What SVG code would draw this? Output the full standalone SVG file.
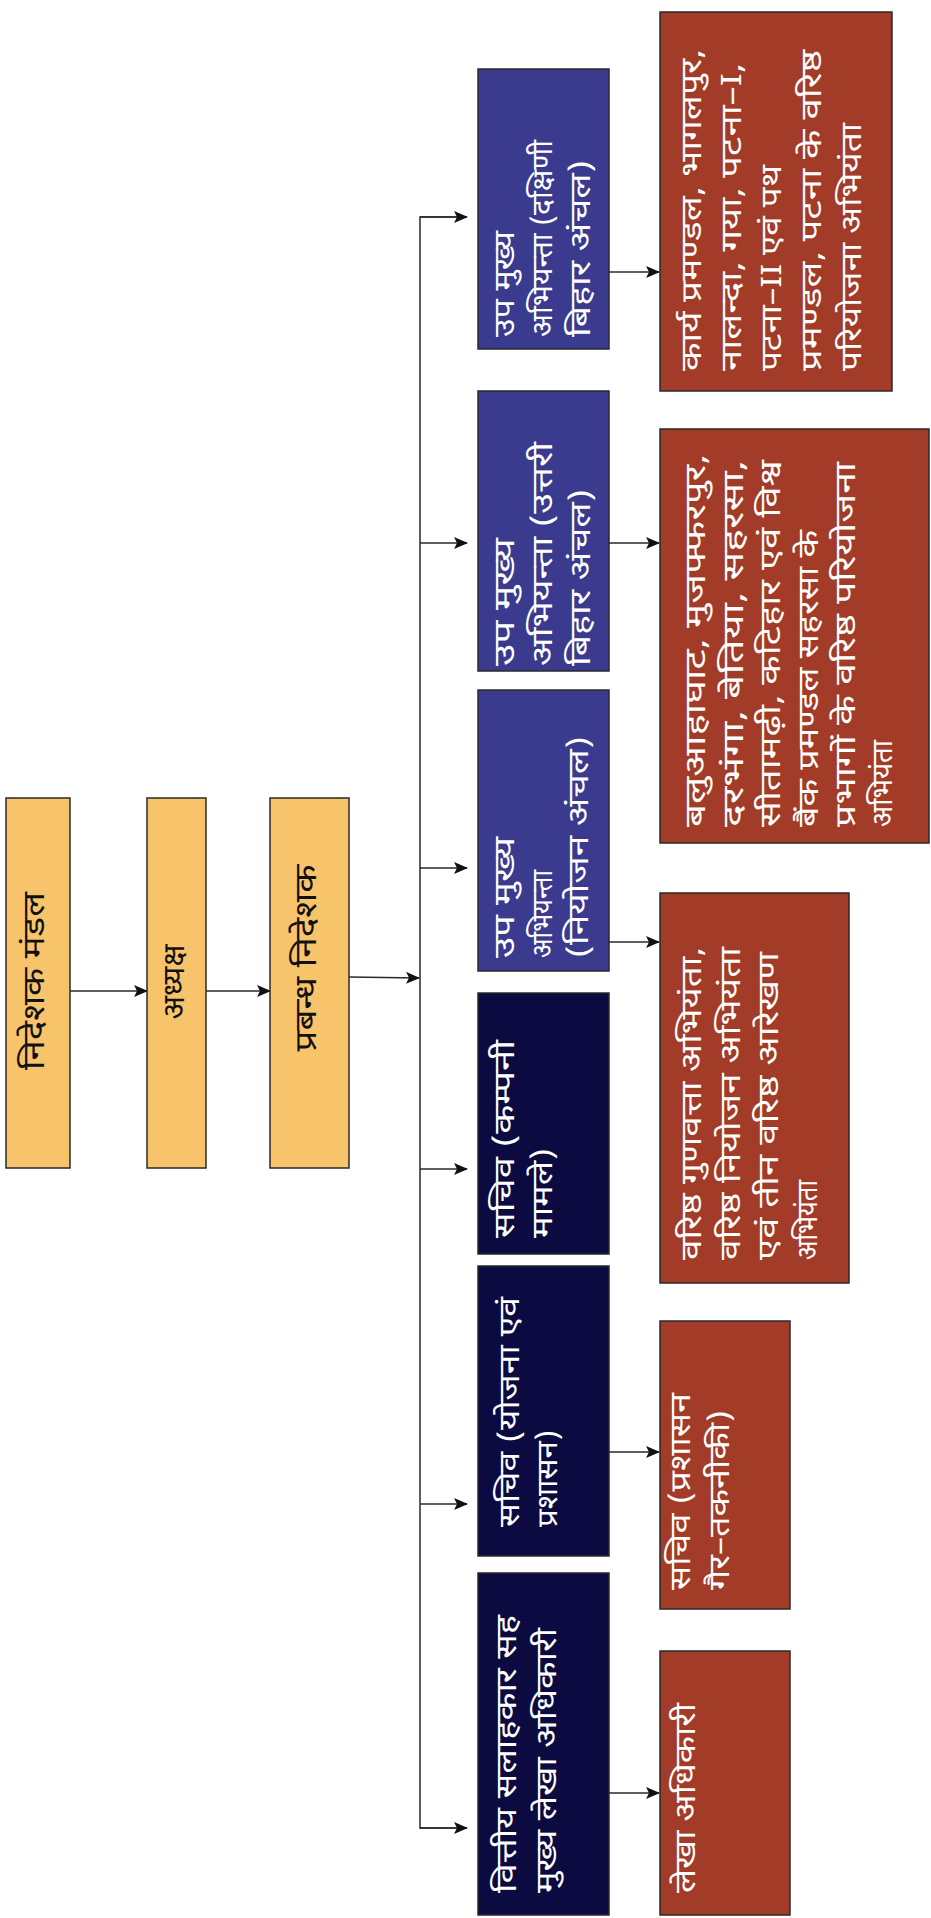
<svg xmlns="http://www.w3.org/2000/svg" width="931" height="1918" viewBox="0 0 931 1918">
<style>
.bx{stroke:#2a2a2a;stroke-width:1.5}
.yl{fill:#F8C46B}
.bm{fill:#3A3A8E}
.bd{fill:#0B0B42}
.rd{fill:#A23B28}
text{font-family:"Noto Sans Devanagari","Lohit Devanagari","Noto Sans","DejaVu Sans",sans-serif}
.w{fill:#FFFFFF;font-size:28px}
.k{fill:#111;font-size:30px;text-anchor:middle}
.c{stroke:#2a2a2a;stroke-width:1.5;fill:none}
.a{marker-end:url(#ah)}
</style>
<defs>
<marker id="ah" markerUnits="userSpaceOnUse" markerWidth="14" markerHeight="12" refX="13" refY="6" orient="auto">
<path d="M0,0 L14,6 L0,12 L3,6 z" fill="#111"/>
</marker>
</defs>
<rect width="931" height="1918" fill="#FFFFFF"/>

<g id="connectors">
<line class="c a" x1="70" y1="991" x2="147" y2="991"/>
<line class="c a" x1="206" y1="991" x2="270" y2="991"/>
<line class="c a" x1="349" y1="977" x2="419" y2="978"/>
<polyline class="c" points="466,217 420,217 420,1828 466,1828"/>
<line class="c a" x1="420" y1="217" x2="467" y2="217"/>
<line class="c a" x1="420" y1="543" x2="467" y2="543"/>
<line class="c a" x1="420" y1="868" x2="467" y2="868"/>
<line class="c a" x1="420" y1="1169" x2="467" y2="1169"/>
<line class="c a" x1="420" y1="1504" x2="467" y2="1504"/>
<line class="c a" x1="420" y1="1828" x2="467" y2="1828"/>
<line class="c a" x1="609" y1="272" x2="659" y2="272"/>
<line class="c a" x1="609" y1="543" x2="659" y2="543"/>
<line class="c a" x1="609" y1="942" x2="659" y2="942"/>
<line class="c a" x1="609" y1="1452" x2="659" y2="1452"/>
<line class="c a" x1="609" y1="1793" x2="659" y2="1793"/>
</g>

<g id="n-nideshak-mandal">
<rect class="bx yl" x="6" y="798" width="64" height="370"/>
<text class="k" transform="translate(44,981) rotate(-90)" textLength="178" lengthAdjust="spacingAndGlyphs">निदेशक मंडल</text>
</g>
<g id="n-adhyaksh">
<rect class="bx yl" x="147" y="798" width="59" height="370"/>
<text class="k" transform="translate(184,982) rotate(-90)" textLength="75" lengthAdjust="spacingAndGlyphs">अध्यक्ष</text>
</g>
<g id="n-prabandh-nideshak">
<rect class="bx yl" x="270" y="798" width="79" height="370"/>
<text class="k" transform="translate(316,958) rotate(-90)" textLength="187" lengthAdjust="spacingAndGlyphs">प्रबन्ध निदेशक</text>
</g>

<g id="n-dakshini">
<rect class="bx bm" x="478" y="69" width="131" height="280"/>
<text class="w" transform="translate(514,337) rotate(-90)" textLength="106" lengthAdjust="spacingAndGlyphs">उप मुख्य</text>
<text class="w" transform="translate(552,337) rotate(-90)" textLength="197" lengthAdjust="spacingAndGlyphs">अभियन्ता (दक्षिणी</text>
<text class="w" transform="translate(590,337) rotate(-90)" textLength="177" lengthAdjust="spacingAndGlyphs">बिहार अंचल)</text>
</g>
<g id="n-uttari">
<rect class="bx bm" x="478" y="391" width="131" height="280"/>
<text class="w" transform="translate(514,666) rotate(-90)" textLength="128" lengthAdjust="spacingAndGlyphs">उप मुख्य</text>
<text class="w" transform="translate(552,666) rotate(-90)" textLength="224" lengthAdjust="spacingAndGlyphs">अभियन्ता (उत्तरी</text>
<text class="w" transform="translate(590,666) rotate(-90)" textLength="177" lengthAdjust="spacingAndGlyphs">बिहार अंचल)</text>
</g>
<g id="n-niyojan">
<rect class="bx bm" x="478" y="690" width="131" height="281"/>
<text class="w" transform="translate(514,958) rotate(-90)" textLength="121" lengthAdjust="spacingAndGlyphs">उप मुख्य</text>
<text class="w" transform="translate(552,958) rotate(-90)" textLength="88" lengthAdjust="spacingAndGlyphs">अभियन्ता</text>
<text class="w" transform="translate(588,958) rotate(-90)" textLength="222" lengthAdjust="spacingAndGlyphs">(नियोजन अंचल)</text>
</g>
<g id="n-kampani">
<rect class="bx bd" x="478" y="993" width="131" height="261"/>
<text class="w" transform="translate(514,1238) rotate(-90)" textLength="198" lengthAdjust="spacingAndGlyphs">सचिव (कम्पनी</text>
<text class="w" transform="translate(552,1238) rotate(-90)" textLength="90" lengthAdjust="spacingAndGlyphs">मामले)</text>
</g>
<g id="n-yojana">
<rect class="bx bd" x="478" y="1266" width="131" height="290"/>
<text class="w" transform="translate(519,1527) rotate(-90)" textLength="230" lengthAdjust="spacingAndGlyphs">सचिव (योजना एवं</text>
<text class="w" transform="translate(557,1527) rotate(-90)" textLength="97" lengthAdjust="spacingAndGlyphs">प्रशासन)</text>
</g>
<g id="n-vittiya">
<rect class="bx bd" x="478" y="1573" width="131" height="342"/>
<text class="w" transform="translate(516,1893) rotate(-90)" textLength="278" lengthAdjust="spacingAndGlyphs">वित्तीय सलाहकार सह</text>
<text class="w" transform="translate(556,1893) rotate(-90)" textLength="265" lengthAdjust="spacingAndGlyphs">मुख्य लेखा अधिकारी</text>
</g>

<g id="n-dakshini-child">
<rect class="bx rd" x="660" y="12" width="232" height="379"/>
<text class="w" transform="translate(701,371) rotate(-90)" textLength="322" lengthAdjust="spacingAndGlyphs">कार्य प्रमण्डल, भागलपुर,</text>
<text class="w" transform="translate(741,371) rotate(-90)" textLength="308" lengthAdjust="spacingAndGlyphs">नालन्दा, गया, पटना–I,</text>
<text class="w" transform="translate(781,371) rotate(-90)" textLength="206" lengthAdjust="spacingAndGlyphs">पटना–II एवं पथ</text>
<text class="w" transform="translate(821,371) rotate(-90)" textLength="321" lengthAdjust="spacingAndGlyphs">प्रमण्डल, पटना के वरिष्ठ</text>
<text class="w" transform="translate(861,371) rotate(-90)" textLength="248" lengthAdjust="spacingAndGlyphs">परियोजना अभियंता</text>
</g>
<g id="n-uttari-child">
<rect class="bx rd" x="660" y="429" width="269" height="414"/>
<text class="w" transform="translate(705,827) rotate(-90)" textLength="373" lengthAdjust="spacingAndGlyphs">बलुआहाघाट, मुजफ्फरपुर,</text>
<text class="w" transform="translate(743,827) rotate(-90)" textLength="367" lengthAdjust="spacingAndGlyphs">दरभंगा, बेतिया, सहरसा,</text>
<text class="w" transform="translate(780,827) rotate(-90)" textLength="367" lengthAdjust="spacingAndGlyphs">सीतामढ़ी, कटिहार एवं विश्व</text>
<text class="w" transform="translate(818,827) rotate(-90)" textLength="297" lengthAdjust="spacingAndGlyphs">बैंक प्रमण्डल सहरसा के</text>
<text class="w" transform="translate(855,827) rotate(-90)" textLength="365" lengthAdjust="spacingAndGlyphs">प्रभागों के वरिष्ठ परियोजना</text>
<text class="w" transform="translate(892,827) rotate(-90)" textLength="87" lengthAdjust="spacingAndGlyphs">अभियंता</text>
</g>
<g id="n-niyojan-child">
<rect class="bx rd" x="660" y="893" width="189" height="390"/>
<text class="w" transform="translate(701,1260) rotate(-90)" textLength="313" lengthAdjust="spacingAndGlyphs">वरिष्ठ गुणवत्ता अभियंता,</text>
<text class="w" transform="translate(740,1260) rotate(-90)" textLength="313" lengthAdjust="spacingAndGlyphs">वरिष्ठ नियोजन अभियंता</text>
<text class="w" transform="translate(778,1260) rotate(-90)" textLength="308" lengthAdjust="spacingAndGlyphs">एवं तीन वरिष्ठ आरेखण</text>
<text class="w" transform="translate(817,1260) rotate(-90)" textLength="80" lengthAdjust="spacingAndGlyphs">अभियंता</text>
</g>
<g id="n-prashasan-child">
<rect class="bx rd" x="660" y="1321" width="130" height="288"/>
<text class="w" transform="translate(690,1590) rotate(-90)" textLength="197" lengthAdjust="spacingAndGlyphs">सचिव (प्रशासन</text>
<text class="w" transform="translate(729,1590) rotate(-90)" textLength="180" lengthAdjust="spacingAndGlyphs">गैर–तकनीकी)</text>
</g>
<g id="n-lekha-child">
<rect class="bx rd" x="660" y="1651" width="130" height="264"/>
<text class="w" transform="translate(695,1893) rotate(-90)" textLength="190" lengthAdjust="spacingAndGlyphs">लेखा अधिकारी</text>
</g>
</svg>
